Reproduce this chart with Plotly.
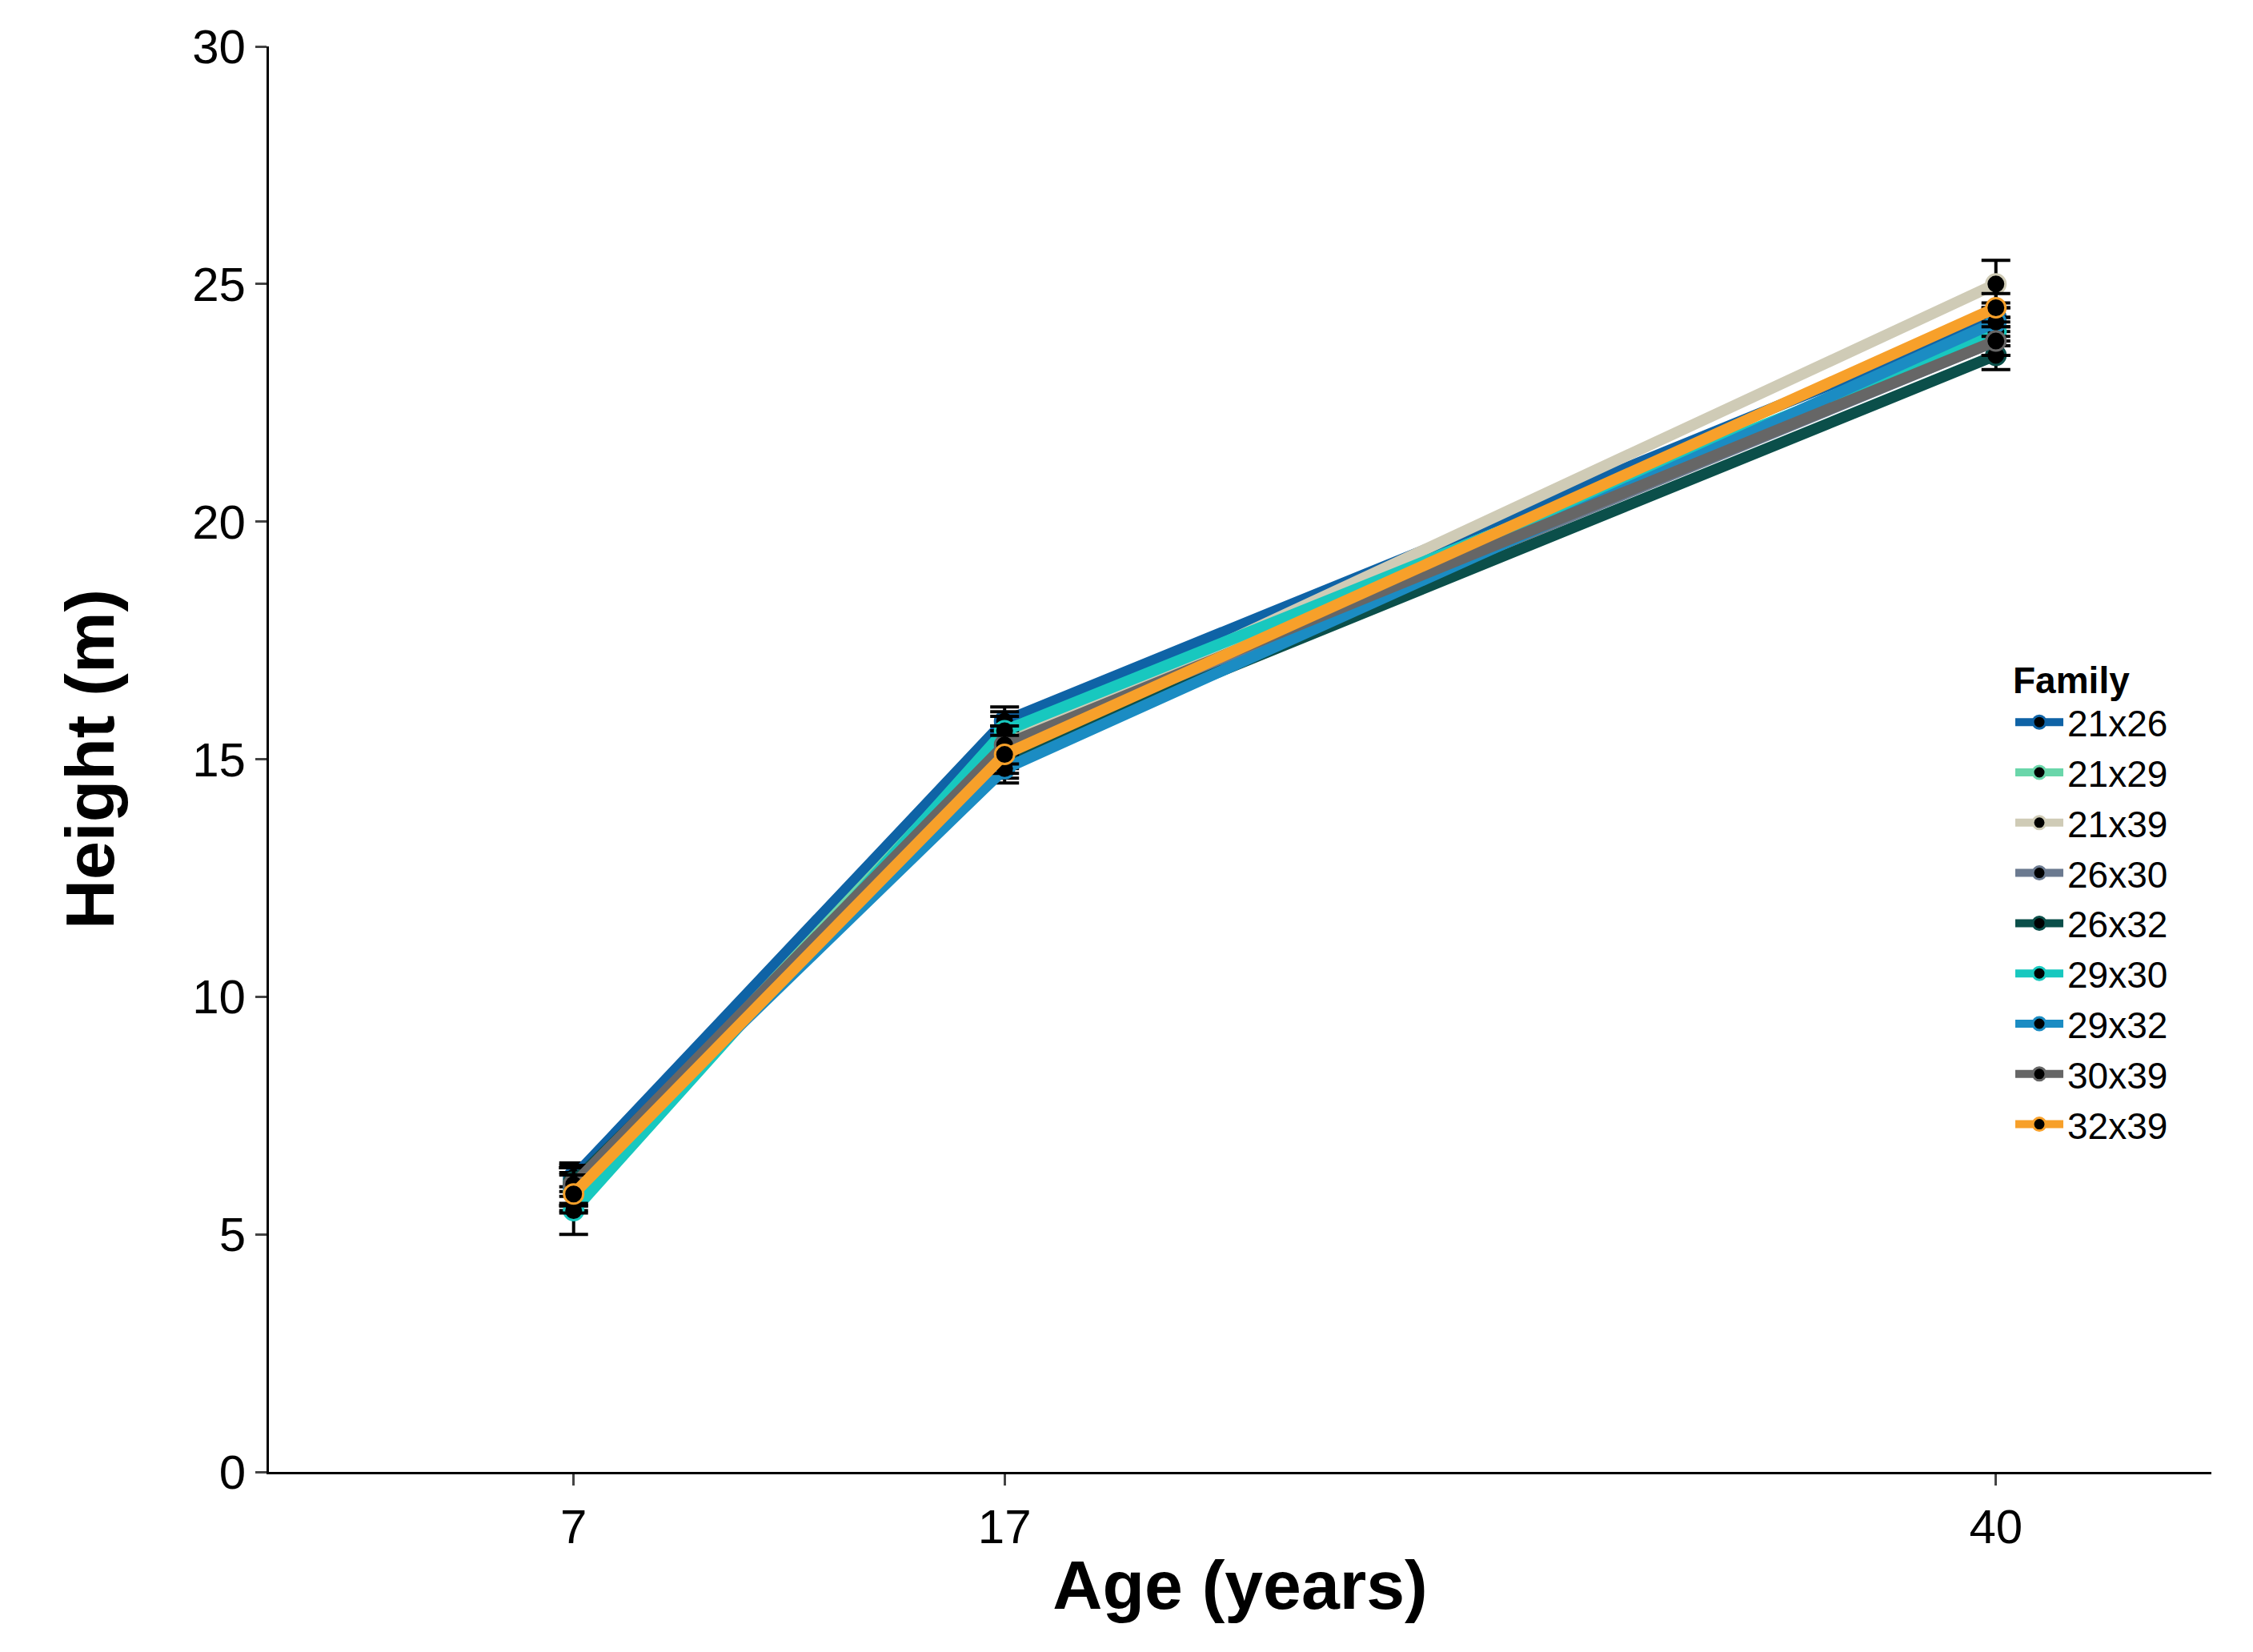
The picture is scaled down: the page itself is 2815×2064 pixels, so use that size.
import plotly.graph_objects as go

ages = [7, 17, 40]
families = ['21x26', '21x29', '21x39', '26x30', '26x32', '29x30', '29x32', '30x39', '32x39']
heights = {
    '21x26': [6.2, 15.8, 24.3],
    '21x29': [5.9, 15.5, 24.0],
    '21x39': [6.0, 15.3, 25.0],
    '26x30': [6.0, 15.2, 23.8],
    '26x32': [6.1, 15.0, 23.5],
    '29x30': [5.5, 15.6, 24.0],
    '29x32': [6.0, 14.8, 24.2],
    '30x39': [6.05, 15.3, 23.8],
    '32x39': [5.85, 15.1, 24.5],
}
errors = {
    '21x26': [0.3, 0.3, 0.3],
    '21x29': [0.4, 0.4, 0.3],
    '21x39': [0.4, 0.4, 0.5],
    '26x30': [0.4, 0.4, 0.3],
    '26x32': [0.3, 0.4, 0.3],
    '29x30': [0.5, 0.4, 0.3],
    '29x32': [0.4, 0.3, 0.3],
    '30x39': [0.4, 0.4, 0.3],
    '32x39': [0.4, 0.4, 0.3],
}
colors = ['#0f63a6', '#6ad6aa', '#cfcbb6', '#6b7a90', '#0b4f4a',
          '#18c8bf', '#1b8cc3', '#666666', '#f7a02a']

fig = go.Figure()
for fam, col in zip(families, colors):
    fig.add_trace(go.Scatter(
        x=ages, y=heights[fam], name=fam, mode='lines+markers',
        line=dict(color=col, width=14),
        marker=dict(size=24, color='black', line=dict(color=col, width=3)),
        error_y=dict(type='data', array=errors[fam], color='black', thickness=4, width=18)))

fig.update_layout(
    width=2815, height=2064,
    paper_bgcolor='white', plot_bgcolor='white',
    margin=dict(l=328, r=60, t=50, b=233),
    font=dict(family='Liberation Sans, Arial', size=48, color='black'),
    legend=dict(x=0.897, y=0.58, xanchor='left', yanchor='top',
                title=dict(text='<b>Family</b>', font=dict(size=46)),
                font=dict(size=46), itemwidth=60, tracegroupgap=0,
                bgcolor='rgba(0,0,0,0)'),
)
fig.update_xaxes(range=[-0.07, 45], tickvals=ages, showline=True, linecolor='black',
                 linewidth=3, ticks='outside', ticklen=14, tickwidth=3, showgrid=False,
                 zeroline=False, title=dict(text='<b>Age (years)</b>', font=dict(size=86), standoff=10),
                 tickfont=dict(size=60))
fig.update_yaxes(range=[0, 30], dtick=5, showline=True, linecolor='black',
                 linewidth=3, ticks='outside', ticklen=14, tickwidth=3, showgrid=False,
                 zeroline=False, title=dict(text='<b>Height (m)</b>', font=dict(size=86), standoff=70),
                 tickfont=dict(size=60))

fig.write_html('out.html')
